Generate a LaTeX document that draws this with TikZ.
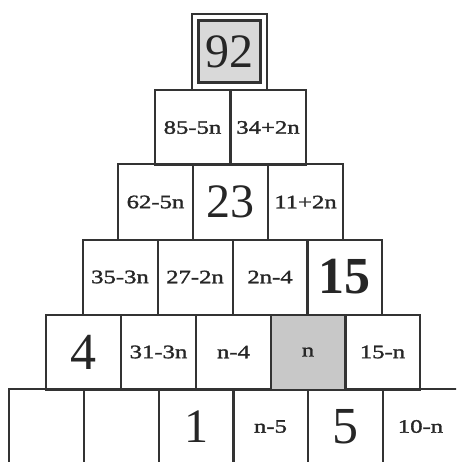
\documentclass[tikz,border=0pt]{standalone}
\usepackage{fontspec}
\setmainfont{Liberation Serif}
\newfontfamily\labfont[FakeStretch=1.3,FakeBold=1.6]{Liberation Serif}
\definecolor{linec}{HTML}{333333}
\definecolor{topgray}{HTML}{D9D9D9}
\definecolor{ngray}{HTML}{C8C8C8}
\tikzset{
  cell/.style={draw=linec, line width=2pt, minimum width=75pt, minimum height=75pt, inner sep=0pt,
    text=black!85, font=\labfont\fontsize{19}{19}\selectfont},
  big/.style={font=\fontsize{48}{48}\selectfont},
  bigb/.style={font=\bfseries\fontsize{52}{52}\selectfont},
}
\begin{document}
\begin{tikzpicture}[x=1pt,y=-1pt]
\useasboundingbox (0,0) rectangle (456,462);
\clip (0,0) rectangle (456,462);
% row 5
\node[cell] (e1) at (46,426.5) {};
\node[cell] (e2) at (121,426.5) {};
\node[cell,big] (e3) at (196,426.5) {1};
\node[cell] (e4) at (270.5,426.5) {n-5};
\node[cell,font=\fontsize{52}{52}\selectfont] (e5) at (345.5,426.5) {5};
\node[cell] (e6) at (420.5,426.5) {10-n};
% row 4
\node[cell,font=\fontsize{52}{52}\selectfont] (d1) at (83.5,352) {4};
\node[cell] (d2) at (158.5,352) {31-3n};
\node[cell] (d3) at (233.5,352) {n-4};
\node[cell,fill=ngray] (d4) at (308,352) {n};
\node[cell] (d5) at (382.5,352) {15-n};
% row 3
\node[cell] (c1) at (120,277) {35-3n};
\node[cell] (c2) at (195,277) {27-2n};
\node[cell] (c3) at (270,277) {2n-4};
\node[cell,bigb] (c4) at (344,277) {15};
% row 2
\node[cell] (b1) at (155.5,202) {62-5n};
\node[cell,big] (b2) at (230.5,202) {23};
\node[cell] (b3) at (305.5,202) {11+2n};
% row 1
\node[cell] (a1) at (192.5,127.5) {85-5n};
\node[cell] (a2) at (268,127.5) {34+2n};
% top
\node[draw=linec, line width=1.5pt, fill=white, minimum width=75pt, minimum height=76pt, inner sep=0pt] (topout) at (229.5,52) {};
\node[draw=linec, line width=3pt, fill=topgray, minimum width=62pt, minimum height=62pt, inner sep=0pt, text=black!85, big] (top) at (229,51.5) {92};
\end{tikzpicture}
\end{document}
